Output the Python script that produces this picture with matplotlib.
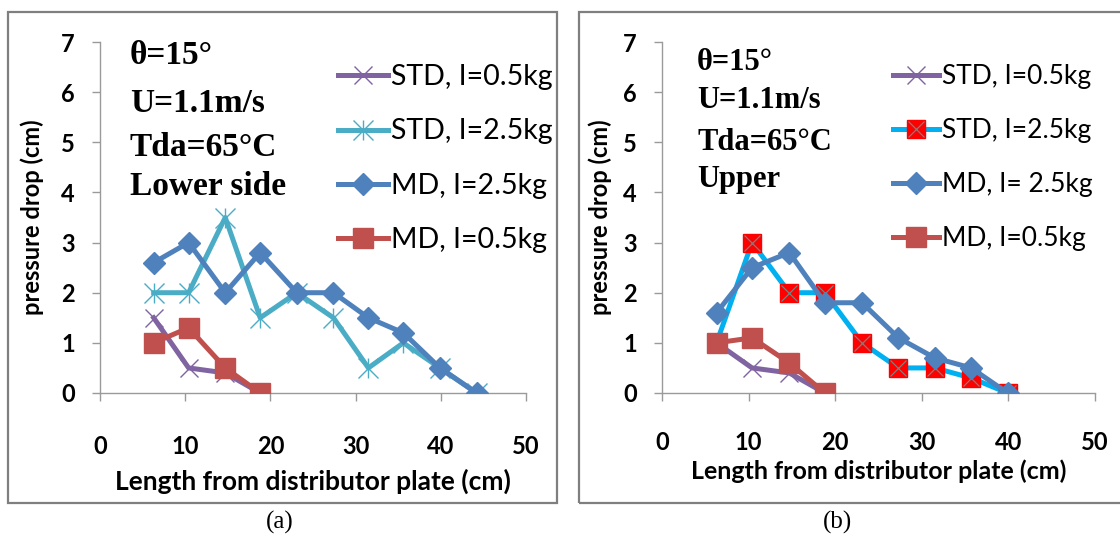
import matplotlib
matplotlib.use("Agg")
import matplotlib.pyplot as plt
from matplotlib.patches import Rectangle

# ---- data ----
x_lower = [6.3, 10.4, 14.7, 18.8, 23.1, 27.4, 31.5, 35.6, 39.9, 44.2]
lower_std_05 = [1.5, 0.5, 0.4, 0.0]
lower_std_25 = [2.0, 2.0, 3.5, 1.5, 2.0, 1.5, 0.5, 1.0, 0.5, 0.0]
lower_md_25 = [2.6, 3.0, 2.0, 2.8, 2.0, 2.0, 1.5, 1.2, 0.5, 0.0]
lower_md_05 = [1.0, 1.3, 0.5, 0.0]

x_upper = [6.3, 10.4, 14.7, 18.8, 23.1, 27.3, 31.5, 35.7, 39.9]
upper_std_05 = [1.0, 0.5, 0.4, 0.0]
upper_std_25 = [1.0, 3.0, 2.0, 2.0, 1.0, 0.5, 0.5, 0.3, 0.0]
upper_md_25 = [1.6, 2.5, 2.8, 1.8, 1.8, 1.1, 0.7, 0.5, 0.0]
upper_md_05 = [1.0, 1.1, 0.6, 0.0]

labels_lower = ["STD, I=0.5kg", "STD, I=2.5kg", "MD, I=2.5kg", "MD, I=0.5kg"]
labels_upper = ["STD, I=0.5kg", "STD, I=2.5kg", "MD, I= 2.5kg", "MD, I=0.5kg"]
notes_lower = ["θ=15°", "U=1.1m/s", "Tda=65°C", "Lower side"]
notes_upper = ["θ=15°", "U=1.1m/s", "Tda=65°C", "Upper"]

xticks = [0, 10, 20, 30, 40, 50]
yticks = [0, 1, 2, 3, 4, 5, 6, 7]

PURPLE = "#8064A2"
TEAL = "#4BACC6"
BLUE = "#4F81BD"
RED = "#C0504D"
SKY = "#00B0F0"
BRIGHT_RED = "#FF0000"

W, H = 1120, 541
fig = plt.figure(figsize=(W / 100, H / 100), dpi=100)
fig.patch.set_facecolor("white")

SANS = ["Lato", "DejaVu Sans"]
SERIF = ["Liberation Serif", "DejaVu Serif"]
SANS_W = "bold"


def fx(px):
    return px / W


def fy(py):
    return 1 - py / H


# panel frames
for x0, x1 in [(8, 557), (579, 1125)]:
    fig.patches.append(Rectangle((fx(x0), fy(503)), fx(x1 - x0), (503 - 12) / H,
                                 transform=fig.transFigure, fill=False,
                                 edgecolor="#7f7f7f", linewidth=1.6, zorder=0))


def style_axes(ax, xpad):
    ax.set_xlim(0, 50)
    ax.set_ylim(0, 7)
    ax.set_xticks(xticks)
    ax.set_yticks(yticks)
    for s in ["top", "right"]:
        ax.spines[s].set_visible(False)
    for s in ["left", "bottom"]:
        ax.spines[s].set_color("#9a9a9a")
        ax.spines[s].set_linewidth(1.0)
    ax.tick_params(axis="both", direction="out", length=6, width=1.0,
                   color="#9a9a9a", labelsize=17)
    ax.tick_params(axis="x", pad=xpad)
    ax.tick_params(axis="y", pad=12)
    for lab in ax.get_xticklabels() + ax.get_yticklabels():
        lab.set_family(SANS)
        lab.set_fontweight(SANS_W)
    ax.patch.set_alpha(0)


def finish_axes(ax, xsize, xlabelpad, ylabelpad):
    ax.set_ylabel("pressure drop (cm)", family=SANS, fontweight=SANS_W,
                  fontsize=17, labelpad=ylabelpad)
    ax.set_xlabel("Length from distributor plate (cm)", family=SANS,
                  fontweight=SANS_W, fontsize=xsize, labelpad=xlabelpad)


def add_legend(ax, handles, labels, x_px, size, spacing):
    ax.legend(handles, labels, loc="upper left",
              bbox_to_anchor=(fx(x_px), fy(64)), bbox_transform=fig.transFigure,
              frameon=False, handlelength=1.75, handletextpad=0.1,
              labelspacing=spacing, borderpad=0, borderaxespad=0, numpoints=1,
              prop={"family": SANS, "size": size, "weight": "normal"})


LW = 3.6

# ---- (a) lower side ----
axa = fig.add_axes([fx(100), fy(393), fx(426), 351 / H])
style_axes(axa, 24)
n05 = len(lower_std_05)
l1, = axa.plot(x_lower[:n05], lower_std_05, color=PURPLE, lw=LW, marker="x",
               ms=13, mew=1.0, zorder=3)
l2, = axa.plot(x_lower, lower_std_25, color=TEAL, lw=LW, marker="x",
               ms=14, mew=1.0, zorder=4)
l2b, = axa.plot(x_lower, lower_std_25, ls="none", marker="|", color=TEAL,
                ms=14, mew=1.0, zorder=4)
l3, = axa.plot(x_lower, lower_md_25, color=BLUE, lw=LW, marker="D",
               ms=11, zorder=5)
l4, = axa.plot(x_lower[:len(lower_md_05)], lower_md_05, color=RED, lw=LW,
               marker="s", ms=15, zorder=6)
finish_axes(axa, 19, 8, 12)
add_legend(axa, [l1, (l2, l2b), l3, l4], labels_lower, 338, 20.5, 1.0)
for txt, yy in zip(notes_lower, [55, 103, 147, 187]):
    fig.text(fx(130), fy(yy), txt, family=SERIF, fontweight="bold",
             fontsize=24, va="center", ha="left")

# ---- (b) upper ----
axb = fig.add_axes([fx(662), fy(393), fx(433), 351 / H])
style_axes(axb, 21)
m1, = axb.plot(x_upper[:len(upper_std_05)], upper_std_05, color=PURPLE, lw=LW,
               marker="x", ms=13, mew=1.0, zorder=3)
m2, = axb.plot(x_upper, upper_std_25, color=SKY, lw=LW, marker="s", ms=13,
               mfc=BRIGHT_RED, mec=BRIGHT_RED, zorder=4)
m2b, = axb.plot(x_upper, upper_std_25, ls="none", marker="x", ms=12,
                mew=0.9, color="#7f7f7f", zorder=4)
m3, = axb.plot(x_upper, upper_md_25, color=BLUE, lw=LW, marker="D", ms=11,
               zorder=5)
m4, = axb.plot(x_upper[:len(upper_md_05)], upper_md_05, color=RED, lw=LW,
               marker="s", ms=15, zorder=6)
finish_axes(axb, 18, 4, 8)
add_legend(axb, [m1, (m2, m2b), m3, m4], labels_upper, 893, 19, 1.1)
for txt, yy in zip(notes_upper, [63, 101, 142, 180]):
    fig.text(fx(697), fy(yy), txt, family=SERIF, fontweight="bold",
             fontsize=22, va="center", ha="left")

fig.text(fx(280), fy(522), "(a)", family=SERIF, fontsize=18, ha="center",
         va="center")
fig.text(fx(838), fy(522), "(b)", family=SERIF, fontsize=18, ha="center",
         va="center")

fig.savefig("out.png", dpi=100, facecolor="white")
